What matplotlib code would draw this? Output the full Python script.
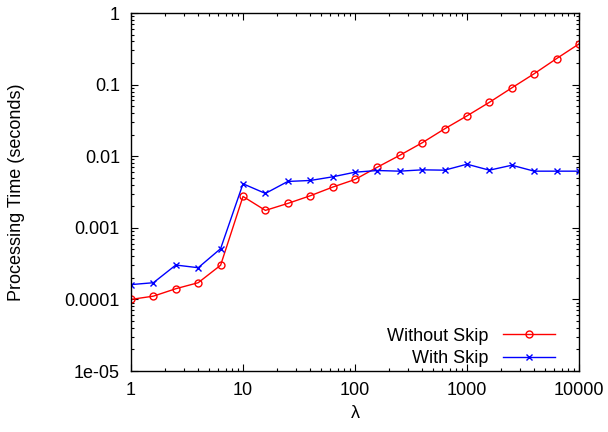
import matplotlib
matplotlib.use("Agg")
import matplotlib.pyplot as plt
import numpy as np
from matplotlib.ticker import FixedLocator, FixedFormatter, LogLocator, NullFormatter

# lambda values: 10^(k/5), k = 0..20
lam = [1, 1.585, 2.512, 3.981, 6.310, 10, 15.85, 25.12, 39.81, 63.10, 100,
       158.5, 251.2, 398.1, 631.0, 1000, 1585, 2512, 3981, 6310, 10000]

without_skip = [1.00e-4, 1.11e-4, 1.41e-4, 1.71e-4, 3.0e-4, 2.74e-3, 1.75e-3,
                2.19e-3, 2.80e-3, 3.70e-3, 4.73e-3, 7.03e-3, 0.0103, 0.0154,
                0.0241, 0.0366, 0.0566, 0.090, 0.142, 0.231, 0.370]
with_skip = [1.61e-4, 1.71e-4, 3.02e-4, 2.77e-4, 5.11e-4, 4.12e-3, 3.02e-3,
             4.44e-3, 4.58e-3, 5.15e-3, 5.98e-3, 6.31e-3, 6.18e-3, 6.45e-3,
             6.38e-3, 7.73e-3, 6.38e-3, 7.48e-3, 6.18e-3, 6.18e-3, 6.18e-3]

xticks = [1, 10, 100, 1000, 10000]
xtick_labels = ["1", "10", "100", "1000", "10000"]
yticks = [1e-5, 1e-4, 1e-3, 1e-2, 1e-1, 1]
ytick_labels = ["1e-05", "0.0001", "0.001", "0.01", "0.1", "1"]

plt.rcParams['font.family'] = ['Liberation Sans', 'DejaVu Sans']

fig = plt.figure(figsize=(6.08, 4.32), dpi=100)
ax = fig.add_axes([131 / 608, 1 - 371 / 432, 448 / 608, 358 / 432])

ax.plot(lam, without_skip, color='#ff0000', lw=1, marker='o', ms=5,
        mfc='none', mew=1, label='Without Skip')
ax.plot(lam, with_skip, color='#0000ff', lw=1, marker='x', ms=5,
        mew=1, label='With Skip')

ax.set_xscale('log')
ax.set_yscale('log')
ax.set_xlim(1, 10000)
ax.set_ylim(1e-5, 1)

ax.xaxis.set_major_locator(FixedLocator(xticks))
ax.xaxis.set_major_formatter(FixedFormatter(xtick_labels))
ax.yaxis.set_major_locator(FixedLocator(yticks))
ax.yaxis.set_major_formatter(FixedFormatter(ytick_labels))
ax.xaxis.set_minor_locator(LogLocator(base=10, subs=np.arange(2, 10), numticks=20))
ax.yaxis.set_minor_locator(LogLocator(base=10, subs=np.arange(2, 10), numticks=20))
ax.xaxis.set_minor_formatter(NullFormatter())
ax.yaxis.set_minor_formatter(NullFormatter())

ax.tick_params(which='both', direction='in', top=True, right=True, labelsize=13)
ax.tick_params(which='major', length=5, width=0.8, pad=8)
ax.tick_params(which='minor', length=2.5, width=0.8)
for s in ax.spines.values():
    s.set_linewidth(1)

ax.set_xlabel('λ', fontsize=13, labelpad=4)
ax.set_ylabel('Processing Time (seconds)', fontsize=13)
ax.yaxis.set_label_coords(-0.237, 0.5)

ax.legend(loc='lower right', frameon=False, markerfirst=False, fontsize=13,
          handlelength=2.9, handletextpad=0.8, labelspacing=0.32,
          borderaxespad=0, bbox_to_anchor=(0.963, -0.01))

fig.savefig('out.png', dpi=100)
